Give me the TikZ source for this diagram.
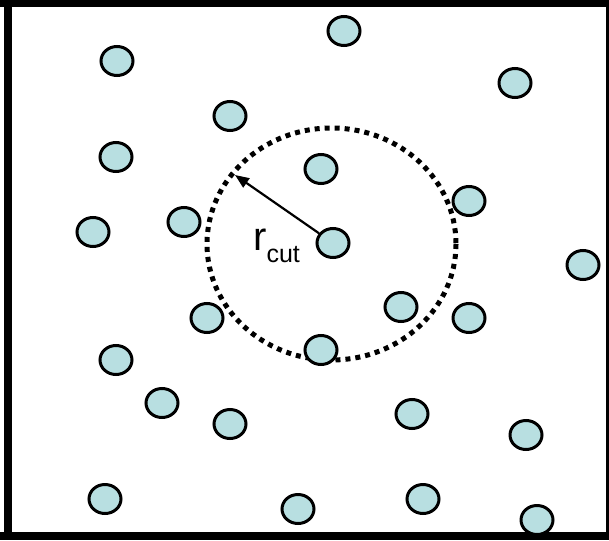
\documentclass[tikz,border=0pt]{standalone}
\usepackage{fontspec}
\setmainfont{Liberation Sans}
\usetikzlibrary{shapes.geometric,arrows.meta}
\definecolor{partfill}{RGB}{184,223,225}
\tikzset{
  particle/.style={ellipse, draw=black, fill=partfill, line width=3pt, inner sep=0pt, minimum width=32pt, minimum height=29pt},
  cutoff/.style={line width=5pt, dash pattern=on 5pt off 5pt},
  framebar/.style={fill=black, draw=none}
}
\begin{document}
\begin{tikzpicture}[x=1pt,y=-1pt]
\useasboundingbox (0,0) rectangle (609,540);
\fill[white] (0,0) rectangle (609,540);
% frame
\fill[framebar] (4,0) rectangle (12,540);
\fill[framebar] (0,0) rectangle (609,7);
\fill[framebar] (606,0) rectangle (609,540);
\fill[framebar] (0,532) rectangle (609,540);
% cutoff circle
\draw[cutoff] (331.5,244) ellipse [x radius=124.5, y radius=116];
\coordinate (tip) at (235,175);
% particles
\node[particle] (c) at (333,243) {};
\draw[line width=2.2pt, -{Triangle[length=14pt,width=11pt]}] (c) -- (tip);
\foreach \n/\x/\y in {a/117/61, b/230/116, d/116/157, e/93/232, f/184/222, g/344/31, h/515/83, i/321/169, j/469/201, k/583/265, l/207/318, m/116/360, n/162/403, o/230/424, p/105/499, q/298/509, r/401/307, s/469/318, t/321/350, u/412/414, v/526/435, w/423/499, x/537/520}
  \node[particle] (\n) at (\x,\y) {};
\node[anchor=base west, inner sep=0pt] (lbl) at (253,250) {\fontsize{40}{40}\selectfont r\fontsize{25}{25}\selectfont\raisebox{-12pt}{cut}};
\end{tikzpicture}
\end{document}
